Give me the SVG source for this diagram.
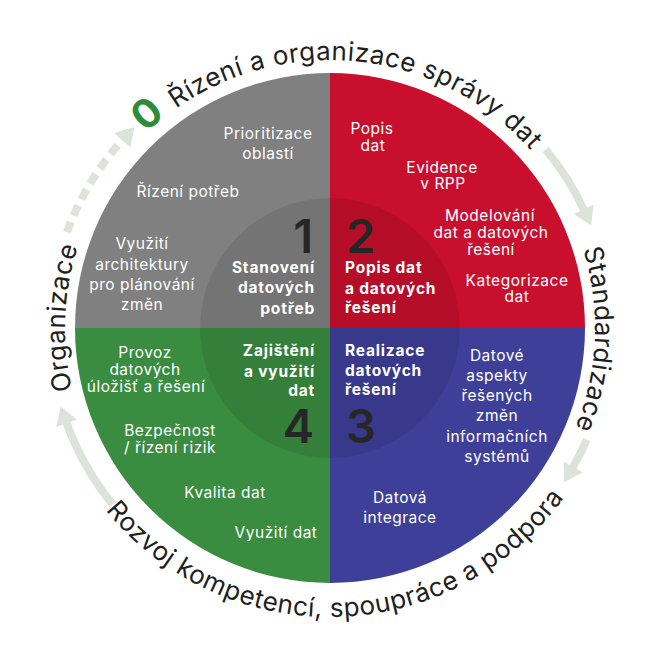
<svg xmlns="http://www.w3.org/2000/svg" width="660" height="660" viewBox="0 0 660 660">
<style>
.ring{font-family:Inter,"Liberation Sans",sans-serif;font-size:26px;font-weight:400;fill:#1f1f1f;letter-spacing:0.5px}
.t{font-family:Inter,"Liberation Sans",sans-serif;font-size:15.5px;fill:#ffffff;text-anchor:middle;letter-spacing:0.5px}
.b{font-family:Inter,"Liberation Sans",sans-serif;font-size:15.5px;font-weight:700;fill:#ffffff;letter-spacing:0.8px}
.e{text-anchor:end}
.s{text-anchor:start}
.num{font-family:Inter,"Liberation Sans",sans-serif;font-size:47px;font-weight:600;fill:#262626}
.arr{fill:none;stroke:#dce4da;stroke-width:8}
</style>
<defs>
<marker id="ah" viewBox="0 0 18 22" refX="1" refY="11" markerWidth="18" markerHeight="22" markerUnits="userSpaceOnUse" orient="auto">
<path d="M0,0 L18,11 L0,22 z" fill="#dce4da"/>
</marker>
<path id="ringTop" d="M 330 596 A 268 268 0 1 1 330 60 A 268 268 0 1 1 330 596"/>
<path id="ringSide" d="M 330 593 A 265 265 0 1 1 330 63 A 265 265 0 1 1 330 593"/>
<path id="ringBot" d="M 41 328 A 289 289 0 0 0 619 328"/>
</defs>
<rect width="660" height="660" fill="#ffffff"/>

<g id="quadrant-1">
<path d="M330,328 L75,328 A255,255 0 0 1 330,73 Z" fill="#808080"/>
</g>
<g id="quadrant-2">
<path d="M330,328 L330,73 A255,255 0 0 1 585,328 Z" fill="#c8102e"/>
</g>
<g id="quadrant-3">
<path d="M330,328 L585,328 A255,255 0 0 1 330,583 Z" fill="#3e3f98"/>
</g>
<g id="quadrant-4">
<path d="M330,328 L330,583 A255,255 0 0 1 75,328 Z" fill="#3a8c40"/>
</g>
<g id="inner-circle">
<circle cx="330" cy="328" r="130" fill="#000000" fill-opacity="0.09"/>
</g>

<g id="node-1">
<text class="t" x="268" y="139">Prioritizace</text>
<text class="t" x="268" y="159">oblastí</text>
<text class="t" x="188" y="197">Řízení potřeb</text>
<text class="t" x="142" y="249">Využití</text>
<text class="t" x="142" y="270">architektury</text>
<text class="t" x="142" y="290">pro plánování</text>
<text class="t" x="142" y="310">změn</text>
<text class="num e" x="313" y="253">1</text>
<text class="b e" x="315" y="273">Stanovení</text>
<text class="b e" x="315" y="293">datových</text>
<text class="b e" x="315" y="314">potřeb</text>
</g>

<g id="node-2">
<text class="t" x="372" y="134">Popis</text>
<text class="t" x="373" y="151">dat</text>
<text class="t" x="442" y="173">Evidence</text>
<text class="t" x="443" y="189">v RPP</text>
<text class="t" x="490" y="221">Modelování</text>
<text class="t" x="491" y="238">dat a datových</text>
<text class="t" x="491" y="255">řešení</text>
<text class="t" x="517" y="286">Kategorizace</text>
<text class="t" x="517" y="302">dat</text>
<text class="num s" x="346" y="253">2</text>
<text class="b s" x="345" y="273">Popis dat</text>
<text class="b s" x="345" y="294">a datových</text>
<text class="b s" x="345" y="313">řešení</text>
</g>

<g id="node-3">
<text class="t" x="497" y="361">Datové</text>
<text class="t" x="497" y="381">aspekty</text>
<text class="t" x="497" y="401">řešených</text>
<text class="t" x="497" y="421">změn</text>
<text class="t" x="497" y="442">informačních</text>
<text class="t" x="497" y="462">systémů</text>
<text class="t" x="400" y="503">Datová</text>
<text class="t" x="400" y="523">integrace</text>
<text class="b s" x="345" y="356">Realizace</text>
<text class="b s" x="345" y="376">datových</text>
<text class="b s" x="345" y="395">řešení</text>
<text class="num s" x="346" y="443">3</text>
</g>

<g id="node-4">
<text class="t" x="145" y="358">Provoz</text>
<text class="t" x="145" y="375">datových</text>
<text class="t" x="146" y="392">úložišť a řešení</text>
<text class="t" x="170" y="436">Bezpečnost</text>
<text class="t" x="170" y="453">/ řízení rizik</text>
<text class="t" x="225" y="498">Kvalita dat</text>
<text class="t" x="276" y="538">Využití dat</text>
<text class="b e" x="315" y="356">Zajištění</text>
<text class="b e" x="315" y="377">a využití</text>
<text class="b e" x="315" y="396">dat</text>
<text class="num e" x="314" y="443">4</text>
</g>

<g id="ring-labels">
<text class="ring" letter-spacing="0"><textPath href="#ringTop" startOffset="853.6" text-anchor="middle"><tspan font-size="40" font-weight="700" fill="#2e8b3a">0</tspan><tspan dx="4"> Řízení a organizace správy dat</tspan></textPath></text>
<text class="ring"><textPath href="#ringSide" startOffset="1259.9" text-anchor="middle">Standardizace</textPath></text>
<text class="ring"><textPath href="#ringSide" startOffset="426.4" text-anchor="middle">Organizace</textPath></text>
<text class="ring" letter-spacing="0.6"><textPath href="#ringBot" startOffset="462" text-anchor="middle">Rozvoj kompetencí, spoupráce a podpora</textPath></text>
</g>

<g id="connectors">
<path class="arr" d="M66.9,232.2 A280,280 0 0 1 122.9,139.6" stroke-dasharray="11 7" marker-end="url(#ah)"/>
<path class="arr" d="M545.7,149.5 A280,280 0 0 1 584.0,210.1" marker-end="url(#ah)"/>
<path class="arr" d="M586.8,439.6 A280,280 0 0 1 572.7,467.6" marker-end="url(#ah)"/>
<path class="arr" d="M112.7,504.6 A280,280 0 0 1 66.4,422.4" marker-end="url(#ah)"/>
</g>
</svg>
